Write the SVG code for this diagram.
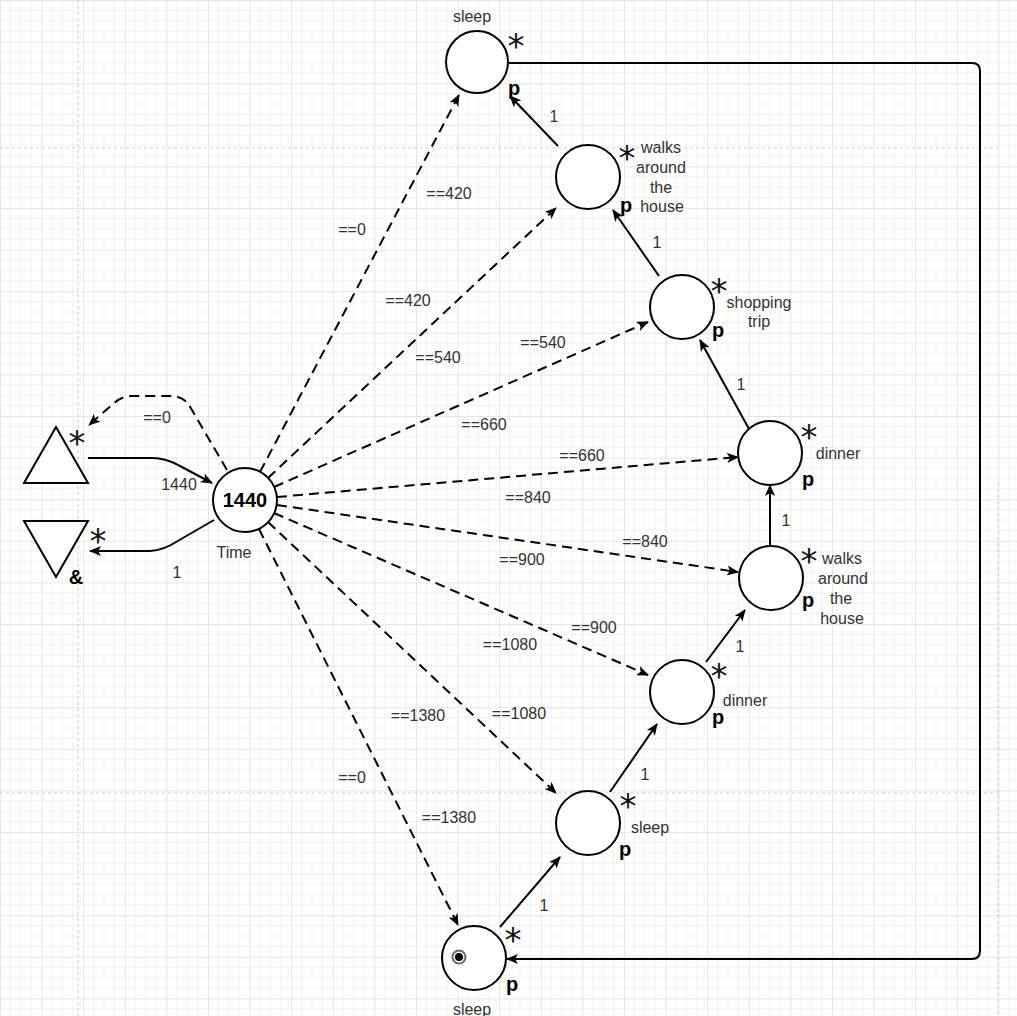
<svg xmlns="http://www.w3.org/2000/svg" width="1017" height="1016" viewBox="0 0 1017 1016">
<defs>
<pattern id="grid" width="41.6" height="41.6" patternUnits="userSpaceOnUse">
<path d="M10.4 0V41.6M20.8 0V41.6M31.2 0V41.6M0 10.4H41.6M0 20.8H41.6M0 31.2H41.6" stroke="#f2f2f2" stroke-width="1" fill="none"/>
<path d="M0.5 0V41.6M0 0.5H41.6" stroke="#e6e6e6" stroke-width="1" fill="none"/>
</pattern>
<marker id="arr" viewBox="0 0 12 10" refX="11" refY="5" markerWidth="12" markerHeight="10" markerUnits="userSpaceOnUse" orient="auto">
<path d="M0,0 L12,5 L0,10 L3,5 z" fill="#000"/>
</marker>
<style>
.pl{fill:#fff;stroke:#000;stroke-width:2}
.e{fill:none;stroke:#000;stroke-width:2;marker-end:url(#arr)}
.d{stroke-dasharray:10 6}
.t{font-family:"Liberation Sans",Arial,sans-serif;font-size:16px;fill:#333;text-anchor:middle}
.st{font-family:"DejaVu Sans","Liberation Sans",sans-serif;font-size:34px;fill:#111;text-anchor:middle}
.p{font-family:"Liberation Sans",Arial,sans-serif;font-size:20px;font-weight:bold;fill:#000;text-anchor:middle}
.pb{fill:none;stroke:#cfcfcf;stroke-width:1.2;stroke-dasharray:3 3}
</style>
</defs>
<rect width="1017" height="1016" fill="#fff"/>
<rect width="1017" height="1016" fill="url(#grid)"/>
<g id="page-breaks">
<line class="pb" x1="0" y1="148" x2="1000" y2="148"/>
<line class="pb" x1="0" y1="793" x2="1000" y2="793"/>
<line class="pb" x1="78" y1="0" x2="78" y2="1016"/>
<line class="pb" x1="998" y1="483" x2="998" y2="1016"/>
</g>
<g id="connectors">
<path class="e" d="M88 458 L152 458 Q166 458 180 466 L212 483"/>
<path class="e" d="M214 520 L176 542 Q164 550 150 551 L90 551"/>
<path class="e d" d="M227 470 L189 405 Q183 396 170 396 L132 396 Q122 396 114 403 L89 425"/>
<path class="e d" d="M260 472 L459 95"/>
<path class="e d" d="M268 478 L556 208"/>
<path class="e d" d="M274 487 L648 322"/>
<path class="e d" d="M277 497 L738 457"/>
<path class="e d" d="M277 505 L738 572"/>
<path class="e d" d="M274 513 L648 675"/>
<path class="e d" d="M268 522 L556 793"/>
<path class="e d" d="M259 529 L458 925"/>
<path class="e" d="M500 927 L560 857"/>
<path class="e" d="M610 792 L657 724"/>
<path class="e" d="M706 662 L745 610"/>
<path class="e" d="M770 546 L770 485"/>
<path class="e" d="M749 429 L700 340"/>
<path class="e" d="M659 276 L613 210"/>
<path class="e" d="M558 146 L510 96"/>
<path class="e" d="M509 63 L972 63 Q980 63 980 71 L980 951 Q980 959 972 959 L507 959"/>
</g>
<g id="edge-labels" class="t">
<text x="179" y="490">1440</text>
<text x="177" y="578">1</text>
<text x="157" y="423">==0</text>
<text x="352" y="235">==0</text>
<text x="449" y="199">==420</text>
<text x="408" y="306">==420</text>
<text x="438" y="363">==540</text>
<text x="543" y="348">==540</text>
<text x="484" y="430">==660</text>
<text x="582" y="461">==660</text>
<text x="528" y="503">==840</text>
<text x="645" y="547">==840</text>
<text x="522" y="565">==900</text>
<text x="594" y="633">==900</text>
<text x="510" y="650">==1080</text>
<text x="519" y="719">==1080</text>
<text x="418" y="721">==1380</text>
<text x="449" y="823">==1380</text>
<text x="352" y="783">==0</text>
<text x="544" y="911">1</text>
<text x="645" y="780">1</text>
<text x="740" y="652">1</text>
<text x="786" y="526">1</text>
<text x="741" y="390">1</text>
<text x="657" y="248">1</text>
<text x="554" y="122">1</text>
</g>
<g id="input">
<polygon class="pl" points="56,427 24,483 88,483"/>
<text class="st" x="77" y="455">*</text>
</g>
<g id="output">
<polygon class="pl" points="24,521 88,521 56,577"/>
<text class="st" x="98" y="553">*</text>
<text class="p" x="76" y="584" font-size="19">&amp;</text>
</g>
<g id="time">
<circle class="pl" cx="245" cy="500" r="32"/>
<text class="p" x="245" y="507">1440</text>
<text class="t" x="234" y="558">Time</text>
</g>
<g id="sleep-top">
<circle class="pl" cx="477" cy="62" r="31"/>
<text class="t" x="472" y="22">sleep</text>
<text class="st" x="516" y="58">*</text>
<text class="p" x="514" y="95">p</text>
</g>
<g id="walks-top">
<circle class="pl" cx="588" cy="177" r="32"/>
<text class="st" x="627" y="170">*</text>
<text class="p" x="626" y="212">p</text>
<text class="t" x="661" y="153">walks</text>
<text class="t" x="661" y="173">around</text>
<text class="t" x="661" y="193">the</text>
<text class="t" x="662" y="212">house</text>
</g>
<g id="shopping">
<circle class="pl" cx="682" cy="307" r="32"/>
<text class="st" x="719" y="303">*</text>
<text class="p" x="718" y="337">p</text>
<text class="t" x="759" y="308">shopping</text>
<text class="t" x="759" y="327">trip</text>
</g>
<g id="dinner-upper">
<circle class="pl" cx="770" cy="453" r="32"/>
<text class="st" x="809" y="449">*</text>
<text class="p" x="808" y="486">p</text>
<text class="t" x="838" y="459">dinner</text>
</g>
<g id="walks-lower">
<circle class="pl" cx="771" cy="578" r="32"/>
<text class="st" x="809" y="573">*</text>
<text class="p" x="808" y="607">p</text>
<text class="t" x="842" y="564">walks</text>
<text class="t" x="843" y="584">around</text>
<text class="t" x="841" y="604">the</text>
<text class="t" x="842" y="624">house</text>
</g>
<g id="dinner-lower">
<circle class="pl" cx="682" cy="692" r="32"/>
<text class="st" x="719" y="688">*</text>
<text class="p" x="718" y="724">p</text>
<text class="t" x="745" y="706">dinner</text>
</g>
<g id="sleep-lower">
<circle class="pl" cx="588" cy="823" r="32"/>
<text class="st" x="628" y="818">*</text>
<text class="p" x="625" y="856">p</text>
<text class="t" x="650" y="833">sleep</text>
</g>
<g id="sleep-bottom">
<circle class="pl" cx="474" cy="958" r="32"/>
<circle cx="459" cy="957" r="6.5" fill="none" stroke="#666" stroke-width="2"/>
<circle cx="459" cy="957" r="4" fill="#000"/>
<text class="st" x="513" y="952">*</text>
<text class="p" x="512" y="991">p</text>
<text class="t" x="472" y="1015">sleep</text>
</g>
</svg>
